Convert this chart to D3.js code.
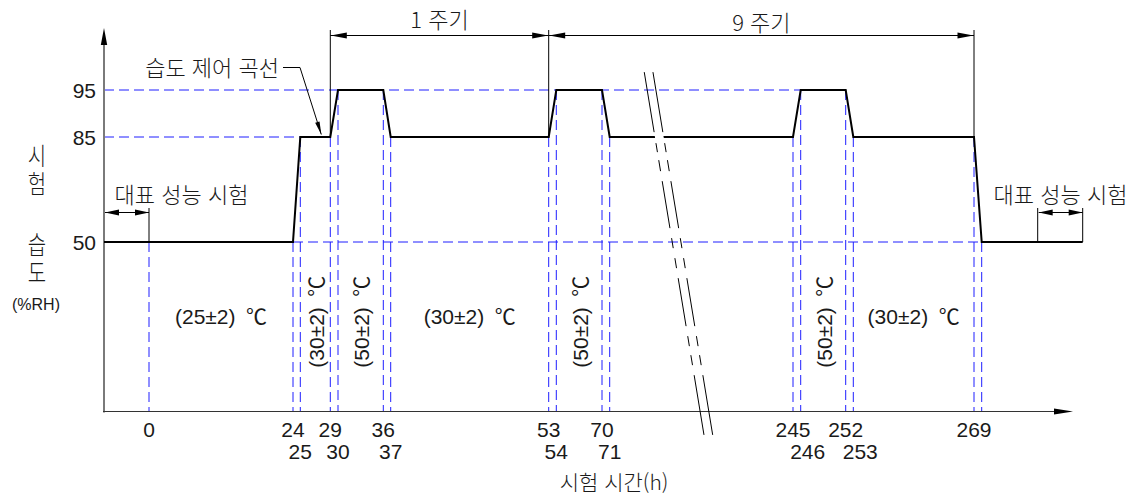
<!DOCTYPE html>
<html lang="ko">
<head>
<meta charset="utf-8">
<script src="https://cdn.jsdelivr.net/npm/d3@7"></script>
<style>
html,body{margin:0;background:#fff}
svg{display:block;font-family:"Liberation Sans","Noto Sans CJK KR",sans-serif}
text{fill:#1a1a1a}
text.ko{font-family:"Noto Sans CJK KR",sans-serif;font-weight:300}
text.vert{writing-mode:vertical-rl;text-orientation:upright}
</style>
</head>
<body>
<svg id="chart" width="1132" height="497"></svg>
<script>
// ── DONNÉES ──────────────────────────────────────────────
// courbe de contrôle : temps (h) → humidité (%RH)
var curveTime=[-8,24,25,29,30,36,37,53,54,70,71,245,246,252,253,269,270,290];
var curveRH  =[50,50,85,85,95,95,85,85,95,95,85,85,95,95,85,85,50,50];
// repères verticaux (pointillés bleus)
var guideTime=[0,24,25,29,30,36,37,53,54,70,71,245,246,252,253,269,270];
// étiquettes de l'axe du temps (2 rangées)
var tickRow1=["0","24","29","36","53","70","245","252","269"];
var tickRow2=["25","30","37","54","71","246","253"];
var rhTicks=[95,85,50];
// plages de température
var bandFrom =[0,25,30,37,54,246,253];
var bandTo   =[24,29,36,53,70,252,269];
var bandLabel=["(25±2)\u2002℃","(30±2)\u2002℃","(50±2)\u2002℃","(30±2)\u2002℃","(50±2)\u2002℃","(50±2)\u2002℃","(30±2)\u2002℃"];
var bandRotated=[false,true,true,false,true,true,false];
// cotes des cycles
var cycleFrom=[29,53], cycleTo=[53,269], cycleLabel=["1 주기","9 주기"];
// essais de performance représentatifs
var repFrom=[-8,281], repTo=[0,290];

// ── ÉCHELLES (axe schématique, non proportionnel) ─────────
var x=d3.scaleLinear()
  .domain([-8,0,24,25,29,30,36,37,53,54,70,71,245,246,252,253,269,270,281,290])
  .range([104,149,293,300.3,330.3,338,383.3,390.7,548.7,556.3,602,609.7,793,800.7,845.7,853.3,974,981.7,1037.7,1082.7]);
var y=d3.scaleLinear().domain([0,50,85,95]).range([411.5,242,137,90]);

var svg=d3.select("#chart");
var BLUE="#1f1fff";
var KO=22; // taille du texte coréen

function rhAt(t){
  for(var i=0;i<curveTime.length-1;i++){
    if(t>=curveTime[i]&&t<=curveTime[i+1]){
      var k=(t-curveTime[i])/(curveTime[i+1]-curveTime[i]);
      return curveRH[i]+k*(curveRH[i+1]-curveRH[i]);
    }
  }
  return 50;
}
function arrow(g,tx,ty,dx,dy,len,hw){
  var n=Math.sqrt(dx*dx+dy*dy);dx/=n;dy/=n;
  var bx=tx-dx*len,by=ty-dy*len;
  g.append("path")
    .attr("d","M"+tx+","+ty+"L"+(bx-dy*hw)+","+(by+dx*hw)+"L"+(bx+dy*hw)+","+(by-dx*hw)+"Z")
    .attr("fill","#000");
}

// ── REPÈRES BLEUS ────────────────────────────────────────
var guides=svg.append("g").attr("stroke",BLUE).attr("stroke-width",1).attr("stroke-dasharray","10,5").attr("fill","none");
guides.append("line").attr("x1",x(-8)).attr("x2",x(246)).attr("y1",y(95)).attr("y2",y(95));
guides.append("line").attr("x1",x(-8)).attr("x2",x(25)).attr("y1",y(85)).attr("y2",y(85));
guides.append("line").attr("x1",x(24)).attr("x2",x(270)).attr("y1",y(50)).attr("y2",y(50));
guides.selectAll("line.v").data(guideTime).enter().append("line").attr("class","v")
  .attr("x1",function(t){return x(t);}).attr("x2",function(t){return x(t);})
  .attr("y1",function(t){return y(rhAt(t));}).attr("y2",y(0));

// ── AXES ─────────────────────────────────────────────────
var axes=svg.append("g");
axes.append("line").attr("x1",x(-8)).attr("x2",x(-8)).attr("y1",y(0)+1).attr("y2",40)
  .attr("stroke","#7a7a7a").attr("stroke-width",2);
arrow(axes,x(-8),28,0,-1,17,3.2);
axes.append("line").attr("x1",x(-8)-1).attr("x2",1058).attr("y1",y(0)).attr("y2",y(0))
  .attr("stroke","#333").attr("stroke-width",1.2);
arrow(axes,1073,y(0),1,0,19,3);

axes.selectAll("text.rh").data(rhTicks).enter().append("text").attr("class","rh")
  .attr("x",96).attr("y",function(d){return y(d);})
  .attr("text-anchor","end").attr("dominant-baseline","central")
  .attr("font-size",21).text(function(d){return d;});

axes.selectAll("text.t1").data(tickRow1).enter().append("text").attr("class","t1")
  .attr("x",function(d){return x(+d);}).attr("y",429)
  .attr("text-anchor","middle").attr("dominant-baseline","central")
  .attr("font-size",21).text(function(d){return d;});
axes.selectAll("text.t2").data(tickRow2).enter().append("text").attr("class","t2")
  .attr("x",function(d){return x(+d)+(+d>200?7:0);}).attr("y",451)
  .attr("text-anchor","middle").attr("dominant-baseline","central")
  .attr("font-size",21).text(function(d){return d;});

svg.append("text").attr("class","ko").attr("x",614).attr("y",481).attr("text-anchor","middle")
  .attr("dominant-baseline","central").attr("font-size",21).text("시험 시간(h)");

// titre vertical « 시험 습도 (%RH) » : colonnes de syllabes étirées
var SY=1.25;
[["시험",171],["습도",260]].forEach(function(w){
  svg.append("text").attr("class","ko vert")
    .attr("transform","translate(37,"+w[1]+") scale(1,"+SY+")")
    .attr("x",0).attr("y",0).attr("text-anchor","middle")
    .attr("font-size",20).attr("letter-spacing",2.4).text(w[0]);
});
svg.append("text").attr("x",36).attr("y",304).attr("text-anchor","middle")
  .attr("dominant-baseline","central").attr("font-size",16).text("(%RH)");

// ── PLAGES DE TEMPÉRATURE ────────────────────────────────
svg.selectAll("text.band").data(bandLabel).enter().append("text").attr("class","band")
  .attr("transform",function(d,i){
    var cx=(x(bandFrom[i])+x(bandTo[i]))/2;
    return bandRotated[i]?"translate("+(cx+1)+","+y(26.5)+") rotate(-90)":"translate("+cx+","+y(28)+")";
  })
  .attr("text-anchor","middle").attr("dominant-baseline","central")
  .attr("font-size",21).text(function(d){return d;});

// ── COURBE ───────────────────────────────────────────────
var line=d3.line().x(function(d){return x(d[0]);}).y(function(d){return y(d[1]);});
svg.append("path").datum(d3.zip(curveTime,curveRH)).attr("d",line)
  .attr("fill","none").attr("stroke","#000").attr("stroke-width",2).attr("stroke-linejoin","miter");

// ── COTES DES CYCLES ─────────────────────────────────────
var dims=svg.append("g").attr("stroke","#000").attr("stroke-width",1);
[29,53,269].forEach(function(t){
  dims.append("line").attr("x1",x(t)).attr("x2",x(t)).attr("y1",30).attr("y2",y(rhAt(t)));
});
cycleLabel.forEach(function(lbl,i){
  var a=x(cycleFrom[i]),b=x(cycleTo[i]);
  dims.append("line").attr("x1",a).attr("x2",b).attr("y1",35.5).attr("y2",35.5);
  arrow(svg,a+0.5,35.5,-1,0,16,3);
  arrow(svg,b-0.5,35.5,1,0,16,3);
  svg.append("text").attr("class","ko").attr("x",(a+b)/2).attr("y",i===0?17.5:21)
    .attr("text-anchor","middle").attr("dominant-baseline","central")
    .attr("font-size",KO).text(lbl);
});

// ── ESSAIS REPRÉSENTATIFS ────────────────────────────────
var rep=svg.append("g").attr("stroke","#000").attr("stroke-width",1);
rep.append("line").attr("x1",x(0)).attr("x2",x(0)).attr("y1",208).attr("y2",y(50));
rep.append("line").attr("x1",x(281)).attr("x2",x(281)).attr("y1",208).attr("y2",y(50));
rep.append("line").attr("x1",x(290)).attr("x2",x(290)).attr("y1",208).attr("y2",y(50));
repFrom.forEach(function(f,i){
  var a=x(f)+1,b=x(repTo[i]);
  rep.append("line").attr("x1",a).attr("x2",b).attr("y1",212.5).attr("y2",212.5);
  arrow(svg,a,212.5,-1,0,14,3);
  arrow(svg,b,212.5,1,0,14,3);
});
svg.append("text").attr("class","ko").attr("x",181.5).attr("y",193).attr("text-anchor","middle")
  .attr("dominant-baseline","central").attr("font-size",KO).text("대표 성능 시험");
svg.append("text").attr("class","ko").attr("x",1060.5).attr("y",193).attr("text-anchor","middle")
  .attr("dominant-baseline","central").attr("font-size",KO).text("대표 성능 시험");

// ── LÉGENDE DE LA COURBE ─────────────────────────────────
svg.append("text").attr("class","ko").attr("x",279).attr("y",66).attr("text-anchor","end")
  .attr("dominant-baseline","central").attr("font-size",KO).text("습도 제어 곡선");
var tipX=x(27.8),tipY=y(85)-2.5;
svg.append("path").attr("d","M283,67.5H300L"+tipX+","+tipY)
  .attr("fill","none").attr("stroke","#000").attr("stroke-width",1);
arrow(svg,tipX,tipY,tipX-300,tipY-67.5,13,2.3);

// ── COUPURE DE L'AXE DU TEMPS ────────────────────────────
var bx1=x(103.8),by1=y(98.8),bx2=x(160.5),by2=y(-6.9),gap=8.7;
function alongX(yy,off){return bx1+off+(bx2-bx1)*(yy-by1)/(by2-by1);}
var yc=y(85);
svg.append("path")
  .attr("d","M"+alongX(yc-6,0)+","+(yc-6)+"L"+alongX(yc-6,gap)+","+(yc-6)+"L"+alongX(yc+6,gap)+","+(yc+6)+"L"+alongX(yc+6,0)+","+(yc+6)+"Z")
  .attr("fill","#fff");
var dash=[60,11,9,8,11,10,47,10,10,10,10,10,48,10,10,9,10,10,60].map(function(v){return v*1.0135;}).join(",");
[0,gap].forEach(function(off){
  svg.append("line").attr("x1",bx1+off).attr("y1",by1).attr("x2",bx2+off).attr("y2",by2)
    .attr("stroke","#000").attr("stroke-width",1).attr("stroke-dasharray",dash);
});
</script>
</body>
</html>
